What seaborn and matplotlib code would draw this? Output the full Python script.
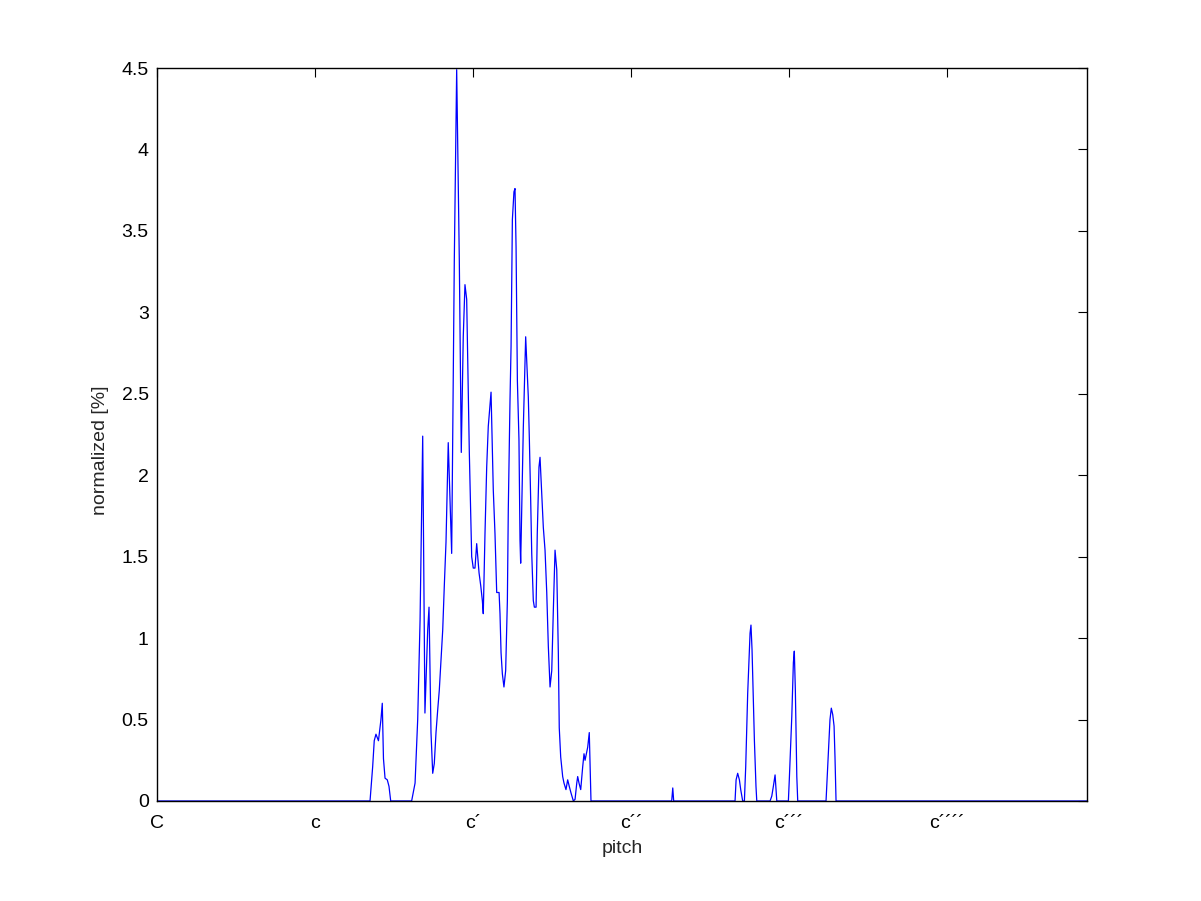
import numpy as np
import pandas as pd
import matplotlib
matplotlib.use("Agg")
import matplotlib.pyplot as plt
import seaborn as sns

# pitch in semitones above C, normalized value in percent
pitch = [0.0, 16.18, 16.38, 16.50, 16.63, 16.82, 17.01, 17.11, 17.20, 17.32, 17.49, 17.62, 17.75,
         19.34, 19.60, 19.80, 19.98, 20.18, 20.35, 20.56, 20.66, 20.81, 20.94, 21.06, 21.19, 21.32,
         21.44, 21.57, 21.70, 21.82, 21.95, 22.12, 22.38, 22.58, 22.76, 22.96, 23.11, 23.26, 23.39,
         23.52, 23.72, 23.83, 23.90, 24.02, 24.15, 24.28, 24.46, 24.59, 24.71, 24.78, 24.91, 25.04,
         25.16, 25.37, 25.54, 25.67, 25.80, 25.98, 26.05, 26.13, 26.23, 26.35, 26.48, 26.61, 26.68,
         26.81, 26.89, 26.99, 27.11, 27.19, 27.27, 27.37, 27.49, 27.57, 27.62, 27.70, 27.82, 28.00,
         28.12, 28.20, 28.28, 28.38, 28.46, 28.58, 28.66, 28.79, 28.88, 29.01, 29.09, 29.22, 29.34,
         29.47, 29.60, 29.72, 29.85, 29.98, 30.10, 30.23, 30.36, 30.48, 30.55, 30.66, 30.81, 30.91,
         31.06, 31.19, 31.31, 31.44, 31.62, 31.75, 31.88, 31.95, 32.05, 32.18, 32.33, 32.43, 32.51,
         32.71, 32.83, 32.96,
         39.09, 39.17, 39.24,
         43.90, 43.98, 44.10, 44.23, 44.33, 44.48, 44.61, 44.71, 44.86, 45.04, 45.11, 45.19, 45.37,
         45.49, 45.55,
         46.56, 46.69, 46.81, 46.94, 47.07,
         47.95, 48.02, 48.21, 48.33, 48.40, 48.48, 48.59, 48.66,
         50.81, 50.91, 51.02, 51.11, 51.21, 51.32, 51.42, 51.49, 51.57,
         70.63]
normalized = [0.0, 0.0, 0.21, 0.37, 0.41, 0.37, 0.50, 0.60, 0.26, 0.14, 0.13, 0.09, 0.0,
              0.0, 0.11, 0.50, 1.11, 2.24, 0.54, 1.05, 1.19, 0.42, 0.17, 0.23, 0.42, 0.56,
              0.68, 0.87, 1.05, 1.32, 1.59, 2.20, 1.52, 3.32, 4.49, 3.32, 2.14, 2.85, 3.17,
              3.08, 2.14, 1.74, 1.50, 1.43, 1.43, 1.58, 1.40, 1.32, 1.23, 1.15, 1.64, 2.05,
              2.30, 2.51, 1.91, 1.64, 1.28, 1.28, 1.15, 0.91, 0.78, 0.70, 0.80, 1.23, 1.79,
              2.46, 2.79, 3.57, 3.74, 3.76, 3.40, 2.58, 2.22, 1.60, 1.46, 1.79, 2.29, 2.85,
              2.63, 2.48, 2.22, 1.85, 1.52, 1.23, 1.19, 1.19, 1.64, 2.05, 2.11, 1.89, 1.68,
              1.54, 1.28, 0.95, 0.70, 0.80, 1.17, 1.54, 1.42, 0.91, 0.45, 0.27, 0.15, 0.11,
              0.07, 0.13, 0.09, 0.05, 0.0, 0.01, 0.11, 0.15, 0.11, 0.07, 0.21, 0.29, 0.25,
              0.33, 0.42, 0.0,
              0.0, 0.08, 0.0,
              0.0, 0.13, 0.17, 0.13, 0.07, 0.0, 0.0, 0.21, 0.66, 1.03, 1.08, 0.93, 0.37,
              0.09, 0.0,
              0.0, 0.03, 0.09, 0.16, 0.0,
              0.0, 0.13, 0.52, 0.85, 0.92, 0.68, 0.15, 0.0,
              0.0, 0.17, 0.36, 0.50, 0.57, 0.53, 0.46, 0.27, 0.0,
              0.0]

tick_pos = [0, 12, 24, 36, 48, 60]
tick_labels = ["C", "c", "c\u00b4", "c\u00b4\u00b4", "c\u00b4\u00b4\u00b4", "c\u00b4\u00b4\u00b4\u00b4"]
ytick_labels = ["0", "0.5", "1", "1.5", "2", "2.5", "3", "3.5", "4", "4.5"]

df = pd.DataFrame({"pitch": pitch, "normalized": normalized})

sns.set_style("white")
plt.rcParams['font.family'] = ['Liberation Sans', 'DejaVu Sans']

fig = plt.figure(figsize=(12.01, 9.01), dpi=100)
ax = fig.add_axes([0.1307, 0.1110, 0.7744, 0.8135])

sns.lineplot(data=df, x="pitch", y="normalized", color="#0000ff", lw=0.9,
             estimator=None, sort=False, ax=ax, zorder=1)

ax.set_xlim(0, 70.63)
ax.set_ylim(0, 4.5)
ax.set_xticks(tick_pos)
ax.set_xticklabels(tick_labels)
ax.set_yticks(np.arange(0, 4.51, 0.5))
ax.set_yticklabels(ytick_labels)
ax.tick_params(direction="in", length=6.5, width=0.8, top=True, right=True,
               labelsize=14, colors="black")
ax.tick_params(axis="x", pad=10)
ax.tick_params(axis="y", pad=6)
for s in ax.spines.values():
    s.set_color("black")
    s.set_linewidth(1.0)
    s.set_zorder(3)

ax.set_xlabel("pitch", fontsize=14)
ax.set_ylabel("normalized [%]", fontsize=14)
ax.xaxis.set_label_coords(0.50, -0.053)
ax.yaxis.set_label_coords(-0.052, 0.478)

fig.savefig("out.png", dpi=100, facecolor="white")
